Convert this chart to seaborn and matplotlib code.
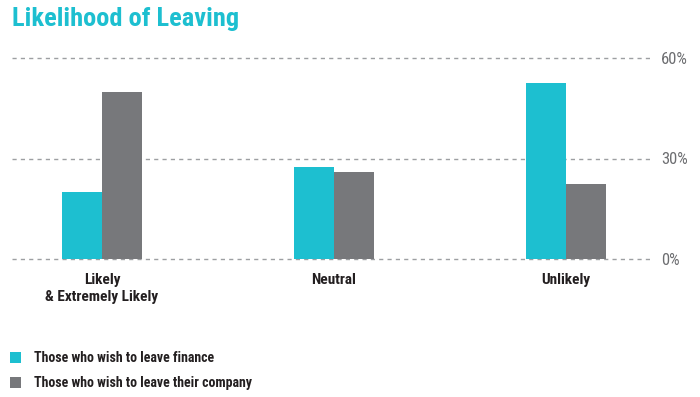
import pandas as pd
import matplotlib.pyplot as plt
import seaborn as sns

categories = ["Likely\n& Extremely Likely", "Neutral", "Unlikely"]
series = ["Those who wish to leave finance", "Those who wish to leave their company"]
leave_finance = [20, 27.5, 52.5]
leave_company = [50, 26, 22.5]
y_ticks = [0, 30, 60]

colors = ["#1DBFD0", "#77787B"]

df = pd.DataFrame({
    "category": categories * 2,
    "group": [series[0]] * 3 + [series[1]] * 3,
    "value": leave_finance + leave_company,
})

sns.set_style("white")
plt.rcParams['font.family'] = ['Roboto Condensed', 'Archivo Narrow', 'DejaVu Sans']

fig = plt.figure(figsize=(7, 3.97), dpi=100)
ax = fig.add_axes([12 / 700, 138 / 397, 641 / 700, 201 / 397])

sns.barplot(data=df, x="category", y="value", hue="group", palette=colors,
            width=0.345, gap=0, saturation=1, linewidth=0, ax=ax, legend=True)

ax.set_xlim(-0.388, 2.375)
ax.set_ylim(0, 60)
ax.set_yticks(y_ticks)
ax.set_yticklabels([f"{t}%" for t in y_ticks])
ax.yaxis.tick_right()
ax.tick_params(axis="y", length=0, pad=6, labelsize=12, labelcolor="#6D6E71")
ax.tick_params(axis="x", length=0, pad=10, labelsize=11)
for lbl in ax.get_xticklabels():
    lbl.set_fontweight("bold")
    lbl.set_color("#231F20")
    lbl.set_linespacing(1.3)
for t in y_ticks:
    ax.axhline(t, color="#9D9FA2", lw=1, ls=(0, (3, 3)), zorder=0, clip_on=False)
for s in ax.spines.values():
    s.set_visible(False)
ax.set_xlabel("")
ax.set_ylabel("")

handles, labels = ax.get_legend_handles_labels()
ax.legend(handles, labels, loc="upper left", bbox_to_anchor=(-3 / 700, 1 - 339 / 397),
          bbox_transform=fig.transFigure, frameon=False, handlelength=0.85,
          handleheight=0.85, handletextpad=0.9, labelspacing=0.75,
          prop={"weight": "bold", "size": 10})
for t in ax.get_legend().get_texts():
    t.set_color("#231F20")

fig.text(12 / 700, 1 - 7 / 397, "Likelihood of Leaving", color="#1DBFD0",
         fontsize=19, fontweight="bold", va="top", ha="left")

plt.savefig("out.png", dpi=100)
